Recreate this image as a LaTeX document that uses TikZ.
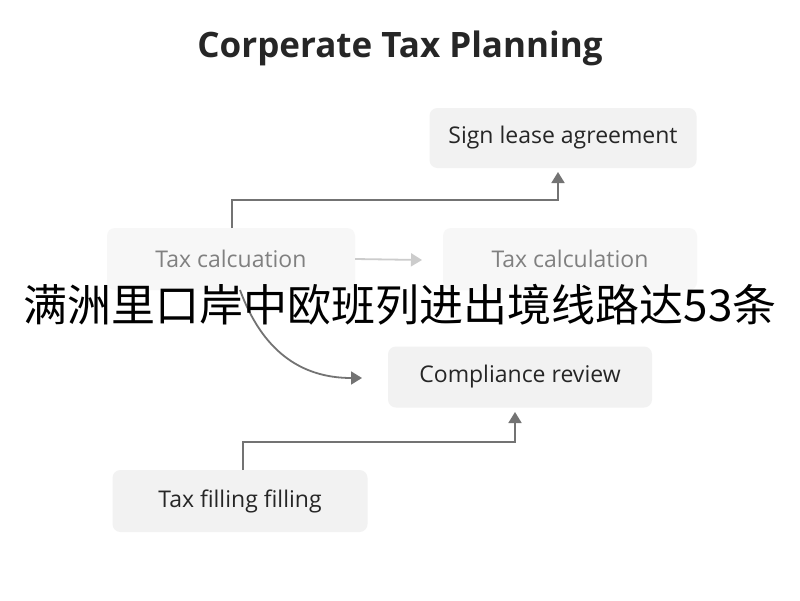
\documentclass[tikz,border=0pt]{standalone}
\usepackage{fontspec}
\setmainfont{Open Sans}
\newfontfamily\cjk{Noto Sans CJK SC}
\usetikzlibrary{arrows.meta,calc}
\begin{document}
\begin{tikzpicture}[x=1pt,y=-1pt,
  box/.style={draw=none,fill=black!5,rounded corners=8pt,inner sep=0pt,font=\fontsize{23}{26}\selectfont,text=black!85},
  arr/.style={draw=black!55,line width=1.8pt,-{Triangle[length=11pt,width=13pt]}}]
\useasboundingbox[fill=white] (0,0) rectangle (800,600);
\node[font=\bfseries\fontsize{35}{40}\selectfont,text=black!85] (t) at (400,48) {Corperate Tax Planning};
\node[box,minimum width=267,minimum height=60] (s) at (563,138) {Sign lease agreement};
\node[box,minimum width=248,minimum height=62,fill=black!3,text=black!50] (a) at (231,259) {Tax calcuation};
\node[box,minimum width=254,minimum height=62,fill=black!3,text=black!50] (b) at (570,259) {Tax calculation};
\node[box,minimum width=264,minimum height=61] (c) at (520,377) {Compliance review};
\node[box,minimum width=255,minimum height=62] (f) at (240,501) {Tax filling filling};
\coordinate (s1) at (558,172);
\coordinate (bx) at (422,260);
\coordinate (c1) at (362,378);
\coordinate (c2) at (515,412);
\draw[arr] (232,228) -- (232,200) -| (s1);
\draw[arr,draw=black!20] (a.east) -- (bx);
\draw[arr] (240,290) .. controls (262,350) and (300,378) .. (c1);
\draw[arr] (243,470) -- (243,442) -| (c2);
\node[font=\cjk\fontsize{44}{48}\selectfont,text=black] (x) at (400,305) {满洲里口岸中欧班列进出境线路达53条};
\end{tikzpicture}
\end{document}
